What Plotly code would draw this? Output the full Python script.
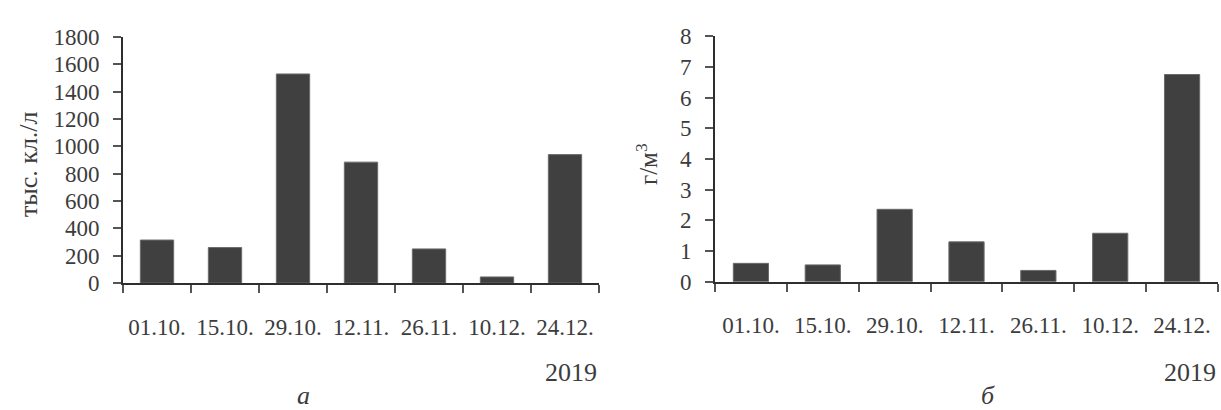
import plotly.graph_objects as go

# Sampling dates (2019)
dates = ["01.10.", "15.10.", "29.10.", "12.11.", "26.11.", "10.12.", "24.12."]

# Panel а: abundance, thousand cells per litre
abundance = [315, 260, 1530, 885, 250, 45, 940]
abundance_ticks = [0, 200, 400, 600, 800, 1000, 1200, 1400, 1600, 1800]

# Panel б: biomass, g per cubic metre
biomass = [0.6, 0.55, 2.36, 1.3, 0.37, 1.58, 6.75]
biomass_ticks = [0, 1, 2, 3, 4, 5, 6, 7, 8]

W, H = 1221, 410
FONT = "Liberation Serif"
TXT = "#3c3c3c"
BAR = "#404040"
AX = "#2e2e2e"
FS = 23

fig = go.Figure()
fig.add_trace(go.Bar(x=dates, y=abundance, xaxis="x", yaxis="y",
                     marker=dict(color=BAR, line=dict(color="#6a6a6a", width=1)),
                     showlegend=False))
fig.add_trace(go.Bar(x=dates, y=biomass, xaxis="x2", yaxis="y2",
                     marker=dict(color=BAR, line=dict(color="#6a6a6a", width=1)),
                     showlegend=False))


def px_x(p):
    return p / W


def px_y(p):
    return (H - p) / H


xcommon = dict(type="category", showline=True, linecolor=AX, linewidth=2,
               ticks="outside", tickson="boundaries", ticklen=8, tickwidth=1.5,
               tickcolor="#555", showgrid=False, zeroline=False,
               tickfont=dict(family=FONT, size=FS, color=TXT),
               ticklabelstandoff=22, fixedrange=True)
ycommon = dict(showline=True, linecolor=AX, linewidth=2, ticks="outside",
               ticklen=8, tickwidth=1.5, tickcolor="#555", showgrid=False,
               zeroline=False, tickfont=dict(family=FONT, size=FS, color=TXT),
               ticklabelstandoff=9, fixedrange=True)

fig.update_layout(
    width=W, height=H,
    margin=dict(l=0, r=0, t=0, b=0),
    paper_bgcolor="white", plot_bgcolor="white",
    bargap=0.51,
    xaxis=dict(domain=[px_x(123), px_x(599)], anchor="y", **xcommon),
    yaxis=dict(domain=[px_y(288.7), px_y(26.7)], anchor="x",
               range=[0, 1800], tickvals=abundance_ticks, **ycommon),
    xaxis2=dict(domain=[px_x(715), px_x(1218)], anchor="y2", **xcommon),
    yaxis2=dict(domain=[px_y(287.3), px_y(25.7)], anchor="x2",
                range=[0, 8], tickvals=biomass_ticks, **ycommon),
)

annotations = [
    dict(text="тыс. кл./л", x=px_x(28), y=px_y(162), textangle=-90, size=26),
    dict(text="г/м<sup>3</sup>", x=px_x(647), y=px_y(162), textangle=-90, size=25),
    dict(text="2019", x=px_x(1218), y=px_y(384), xanchor="right", size=26),
    dict(text="2019", x=px_x(599), y=px_y(384), xanchor="right", size=26),
    dict(text="<i>а</i>", x=px_x(303), y=px_y(408), size=26),
    dict(text="<i>б</i>", x=px_x(988), y=px_y(408), size=26),
]
for a in annotations:
    a.setdefault("xanchor", "center")
    a.setdefault("yanchor", "middle")
    size = a.pop("size")
    fig.add_annotation(xref="paper", yref="paper", showarrow=False,
                       font=dict(family=FONT, size=size, color=TXT), **a)

fig.write_html("out.html")
